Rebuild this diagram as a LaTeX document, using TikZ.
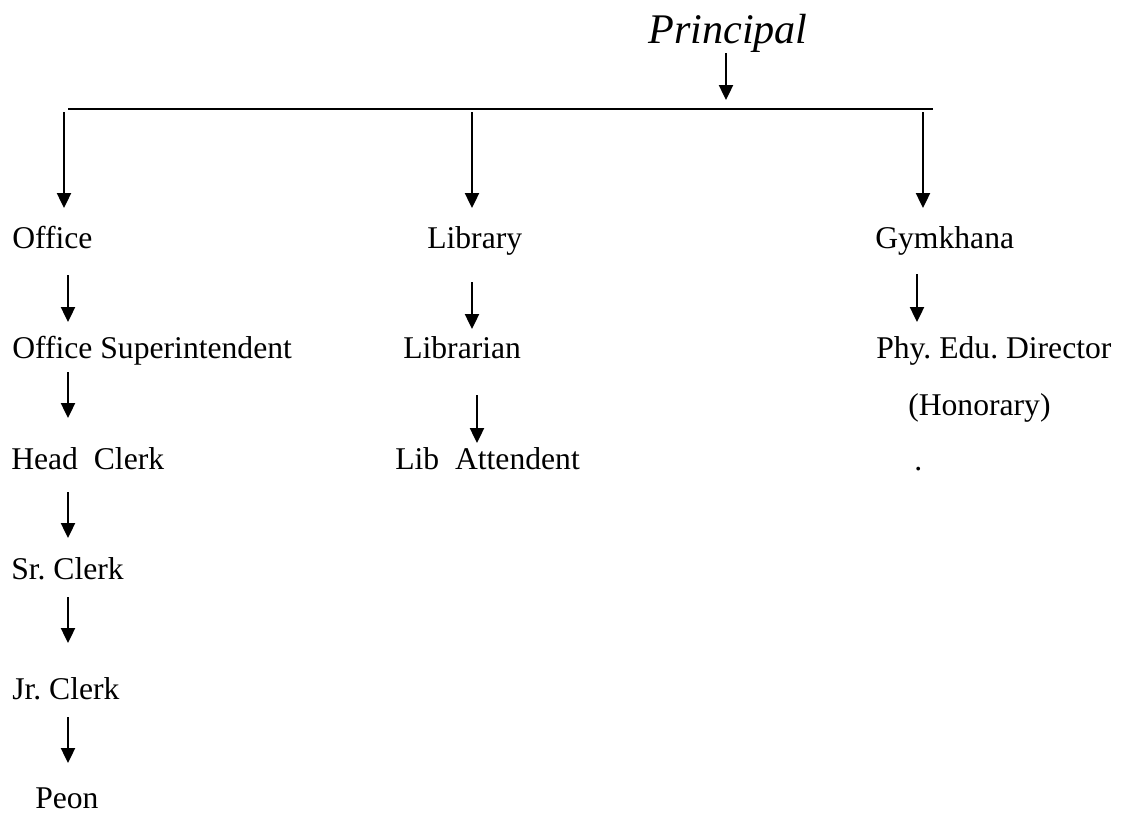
\documentclass[tikz,border=0pt]{standalone}
\usepackage{fontspec}
\setmainfont{Liberation Serif}
\usetikzlibrary{arrows.meta}
\frenchspacing

\begin{document}
\begin{tikzpicture}[x=0.025cm,y=-0.025cm,
    lbl/.style={anchor=base west,inner sep=0pt,font=\fontsize{22.5}{27}\selectfont},
    arr/.style={line width=1.3pt,-{Triangle[length=10.6pt,width=10pt]}},
    gap/.style 2 args={shorten <=#1*0.025cm,shorten >=#2*0.025cm}]
    \useasboundingbox (0,0) rectangle (1121,817);
            % head
            \node[anchor=base west,inner sep=0pt,font=\fontsize{30}{36}\selectfont\itshape] (principal) at (648,43) {Principal};
            \coordinate (barL) at (68,109);
            \coordinate (barR) at (933,109);
            \coordinate (hub) at (726,109);
            \coordinate (colO) at (64,109);
            \coordinate (colOb) at (68,109);
            \coordinate (colL) at (472,109);
            \coordinate (colLb) at (477,109);
            \coordinate (colG) at (923,109);
            \coordinate (colGb) at (917,109);
            % office column
            \node[lbl] (office) at (12,248) {Office};
            \node[lbl] (super) at (12,358) {Office Superintendent};
            \node[lbl] (head) at (11,469) {Head\ \ Clerk};
            \node[lbl] (senior) at (11,579) {Sr. Clerk};
            \node[lbl] (junior) at (12,699) {Jr. Clerk};
            \node[lbl] (peon) at (35,808) {Peon};
            % library column
            \node[lbl] (library) at (427,248) {Library};
            \node[lbl] (librarian) at (403,358) {Librarian};
            \node[lbl] (attendent) at (395,469) {Lib\ \ Attendent};
            % gymkhana column
            \node[lbl] (gym) at (875,248) {Gymkhana};
            \node[lbl] (director) at (876,358) {Phy. Edu. Director};
            \node[lbl] (honorary) at (908,415) {(Honorary)};
            \node[lbl] (dot) at (914,470) {.};

            \draw[line width=1.3pt] (barL) -- (barR);
            \draw[arr,gap={10}{9}] (principal.base -| hub) -- (hub);
            \draw[arr,gap={3}{40}] (colO) -- (office.base -| colO);
            \draw[arr,gap={3}{40}] (colL) -- (library.base -| colL);
            \draw[arr,gap={3}{40}] (colG) -- (gym.base -| colG);

            \draw[arr,gap={27}{36}] (office.base -| colOb) -- (super.base -| colOb);
            \draw[arr,gap={14}{51}] (super.base -| colOb) -- (head.base -| colOb);
            \draw[arr,gap={23}{41}] (head.base -| colOb) -- (senior.base -| colOb);
            \draw[arr,gap={18}{56}] (senior.base -| colOb) -- (junior.base -| colOb);
            \draw[arr,gap={18}{45}] (junior.base -| colOb) -- (peon.base -| colOb);

            \draw[arr,gap={34}{29}] (library.base -| colL) -- (librarian.base -| colL);
            \draw[arr,gap={37}{26}] (librarian.base -| colLb) -- (attendent.base -| colLb);

            \draw[arr,gap={26}{36}] (gym.base -| colGb) -- (director.base -| colGb);
        \end{tikzpicture}
\end{document}
